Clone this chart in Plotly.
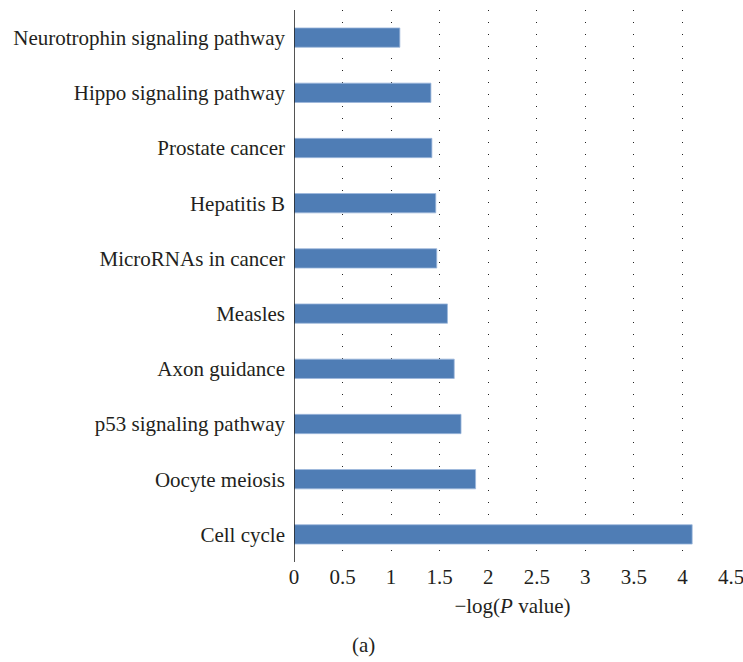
import plotly.graph_objects as go

# KEGG pathways, top to bottom as displayed
pathways = [
    "Neurotrophin signaling pathway",
    "Hippo signaling pathway",
    "Prostate cancer",
    "Hepatitis B",
    "MicroRNAs in cancer",
    "Measles",
    "Axon guidance",
    "p53 signaling pathway",
    "Oocyte meiosis",
    "Cell cycle",
]
neg_log_p = [1.09, 1.41, 1.42, 1.46, 1.47, 1.58, 1.65, 1.72, 1.87, 4.10]

x_ticks = [0, 0.5, 1, 1.5, 2, 2.5, 3, 3.5, 4, 4.5]
x_tick_text = ["0", "0.5", "1", "1.5", "2", "2.5", "3", "3.5", "4", "4.5"]

FONT = "Liberation Serif, Times New Roman, serif"
TEXT = "#231F20"
SIZE = 21

fig = go.Figure(
    go.Bar(
        x=neg_log_p,
        y=pathways,
        orientation="h",
        width=0.35,
        marker=dict(color="#4F7DB5", line=dict(color="#9DB8DC", width=0.8)),
    )
)

fig.update_layout(
    width=743,
    height=662,
    margin=dict(l=294, r=12, t=10, b=100),
    paper_bgcolor="white",
    plot_bgcolor="white",
    showlegend=False,
    font=dict(family=FONT, size=SIZE, color=TEXT),
    xaxis=dict(
        range=[0, 4.5],
        tickvals=x_ticks,
        ticktext=x_tick_text,
        automargin=False,
        ticklabeloverflow="allow",
        showgrid=True,
        gridcolor="#222222",
        gridwidth=1,
        griddash="1px,11px",
        zeroline=False,
        showline=False,
        ticks="",
        tickfont=dict(family=FONT, size=SIZE, color=TEXT),
        title=dict(
            text="\u2212log(<i>P</i> value)",
            font=dict(family=FONT, size=SIZE, color=TEXT),
            standoff=10,
        ),
    ),
    yaxis=dict(
        categoryorder="array",
        categoryarray=pathways[::-1],
        automargin=False,
        showgrid=False,
        zeroline=False,
        showline=False,
        ticks="",
        ticklabelstandoff=8,
        tickfont=dict(family=FONT, size=SIZE, color=TEXT),
    ),
    annotations=[
        dict(
            text="(a)",
            x=0.16,
            y=-0.151,
            xref="paper",
            yref="paper",
            showarrow=False,
            font=dict(family=FONT, size=SIZE, color=TEXT),
            xanchor="center",
            yanchor="middle",
        )
    ],
    shapes=[
        dict(
            type="line",
            xref="x",
            yref="paper",
            x0=0,
            x1=0,
            y0=0,
            y1=1,
            line=dict(color="#1a1a1a", width=1.5),
        )
    ],
)

fig.write_html("out.html")
